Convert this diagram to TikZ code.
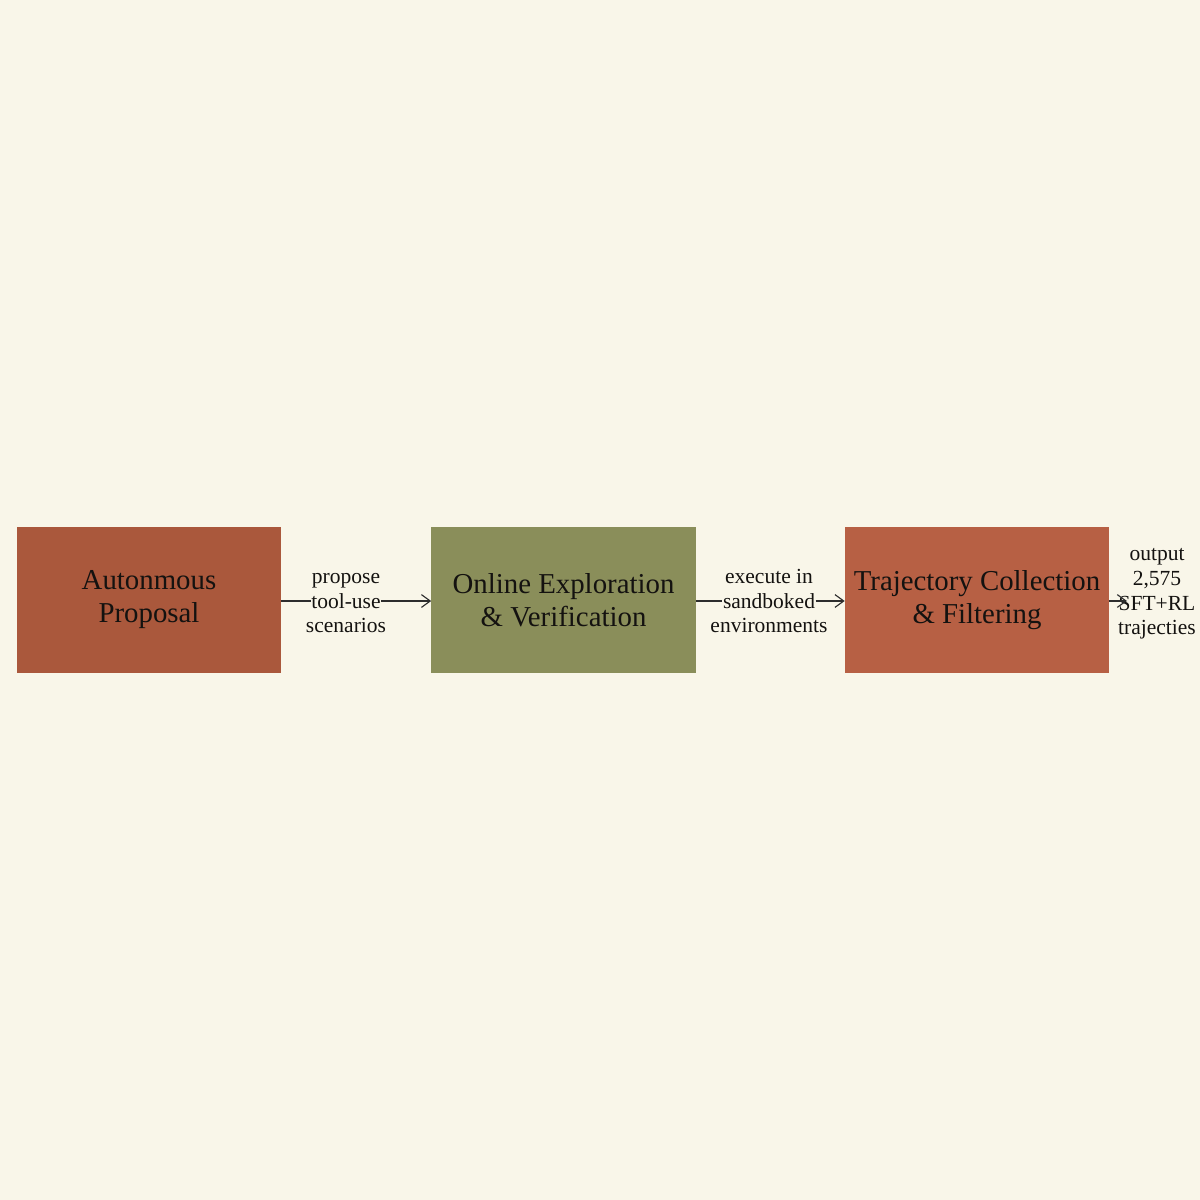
\documentclass[tikz,border=0pt]{standalone}
\usepackage{fontspec}
\setmainfont{Liberation Serif}
\usetikzlibrary{arrows.meta}
\definecolor{bg}{RGB}{249,246,233}
\definecolor{boxA}{RGB}{170,88,60}
\definecolor{boxB}{RGB}{138,142,90}
\definecolor{boxC}{RGB}{183,96,68}
\definecolor{ink}{RGB}{20,18,16}
\definecolor{wire}{RGB}{45,45,45}
\tikzset{
  stagebox/.style={draw=none, minimum width=6.6cm, minimum height=3.65cm, align=center,
    text=ink, font=\fontsize{20.5}{23.5}\selectfont, inner sep=0pt},
  edgetext/.style={inner sep=0.3pt, align=center, text=ink,
    font=\fontsize{15.3}{17.5}\selectfont},
  flowline/.style={draw=wire, line width=0.8pt},
  flow/.style={flowline, -{Straight Barb[length=2.2mm,width=3.2mm,line width=0.8pt]}}
}
\begin{document}
\begin{tikzpicture}[x=0.025cm,y=-0.025cm]
\fill[bg] (0,0) rectangle (1200,1200);
\useasboundingbox (0,0) rectangle (1200,1200);
\node[stagebox, fill=boxA] (a) at (149,600) {\raisebox{-3pt}{\parbox{6cm}{\centering Autonmous\\Proposal}}};
\node[stagebox, fill=boxB] (b) at (563.5,600) {\raisebox{-3pt}{\parbox{6.4cm}{\centering Online Exploration\\\& Verification}}};
\node[stagebox, fill=boxC] (c) at (977,600) {\raisebox{-3pt}{\parbox{6.5cm}{\centering Trajectory Collection\\\& Filtering}}};
% label 1
\node[edgetext] (la) at (346,601) {tool-use};
\node[edgetext, anchor=base] (la1) at ([yshift=17.4pt]la.base) {propose};
\node[edgetext, anchor=base] (la3) at ([yshift=-17.4pt]la.base) {scenarios};
% label 2
\node[edgetext] (lb) at (769,601) {sandboked};
\node[edgetext, anchor=base] (lb1) at ([yshift=17.4pt]lb.base) {execute in};
\node[edgetext, anchor=base] (lb3) at ([yshift=-17.4pt]lb.base) {environments};
% label 3
\node[edgetext] (lc) at (1157,603) {SFT+RL};
\node[edgetext, anchor=base] (lc2) at ([yshift=17.6pt]lc.base) {2,575};
\node[edgetext, anchor=base] (lc1) at ([yshift=35.2pt]lc.base) {output};
\node[edgetext, anchor=base] (lc4) at ([yshift=-17.6pt]lc.base) {trajecties};
\coordinate (out) at (1127,601);
\draw[flowline] (a.east |- la.west) -- (la.west);
\draw[flow] (la.east) -- (b.west |- la.east);
\draw[flowline] (b.east |- lb.west) -- (lb.west);
\draw[flow] (lb.east) -- (c.west |- lb.east);
\draw[flow] (c.east |- out) -- (out);
\end{tikzpicture}
\end{document}
